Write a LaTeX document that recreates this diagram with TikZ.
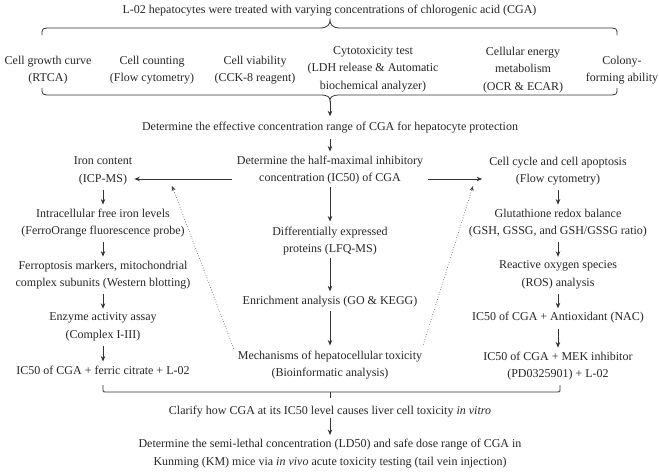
\documentclass[tikz,border=0pt]{standalone}
\usepackage{fontspec}
\setmainfont{Liberation Serif}
\usetikzlibrary{arrows.meta,calc}
\begin{document}
\begin{tikzpicture}[x=1pt,y=-1pt,
  txt/.style={align=center,inner sep=0pt,font=\fontsize{12}{17.5}\selectfont,text=black!85},
  ln/.style={line width=0.8pt,draw=black!80},
  arr/.style={ln,-{Stealth[length=5.5pt,width=4.5pt]}},
  sarr/.style={arr,shorten <=5pt,shorten >=4pt},
  larr/.style={arr,shorten <=3pt,shorten >=5pt},
  dotarr/.style={line width=0.6pt,draw=black!75,dotted,-{Stealth[length=5pt,width=4pt]}}]
\useasboundingbox (0,0) rectangle (659,474);
% title and assays
\node[txt] (title) at (329.5,11) {L-02 hepatocytes were treated with varying concentrations of chlorogenic acid (CGA)};
\node[txt] (c1) at (48,70) {Cell growth curve\\(RTCA)};
\node[txt] (c2) at (152,70) {Cell counting\\(Flow cytometry)};
\node[txt] (c3) at (255,70) {Cell viability\\(CCK-8 reagent)};
\node[txt] (c4) at (373,69) {Cytotoxicity test\\(LDH release \& Automatic\\biochemical analyzer)};
\node[txt] (c5) at (523,70) {Cellular energy\\metabolism\\(OCR \& ECAR)};
\node[txt] (c6) at (622,70) {Colony-\\forming ability};
% braces
\coordinate (tb) at (330,20);
\coordinate (bb) at (330,101);
\draw[ln] (42,35) .. controls (42,28) .. (52,28) -- (320,28) .. controls (328,28) and (330,24) .. (tb)
  .. controls (330,24) and (332,28) .. (340,28) -- (607,28) .. controls (617,28) .. (617,35);
\draw[ln] (42,88) .. controls (42,95) .. (52,95) -- (320,95) .. controls (328,95) and (330,97) .. (bb)
  .. controls (330,97) and (332,95) .. (340,95) -- (607,95) .. controls (617,95) .. (617,88);
% main flow
\node[txt] (eff) at (330,128) {Determine the effective concentration range of CGA for hepatocyte protection};
\node[txt] (ic) at (330,170) {Determine the half-maximal inhibitory\\concentration (IC50) of CGA};
\node[txt] (dep) at (330,241) {Differentially expressed\\proteins (LFQ-MS)};
\node[txt] (enr) at (330,302) {Enrichment analysis (GO \& KEGG)};
\node[txt] (mech) at (330,365) {Mechanisms of hepatocellular toxicity\\(Bioinformatic analysis)};
% left column
\node[txt] (iron) at (103,171) {Iron content\\(ICP-MS)};
\node[txt] (fe) at (103,223) {Intracellular free iron levels\\(FerroOrange fluorescence probe)};
\node[txt] (fer) at (103,275) {Ferroptosis markers, mitochondrial\\complex subunits (Western blotting)};
\node[txt] (enz) at (103,327) {Enzyme activity assay\\(Complex I-III)};
\node[txt] (ferc) at (103,370) {IC50 of CGA + ferric citrate + L-02};
% right column
\node[txt] (cyc) at (558,171) {Cell cycle and cell apoptosis\\(Flow cytometry)};
\node[txt] (glu) at (558,223) {Glutathione redox balance\\(GSH, GSSG, and GSH/GSSG ratio)};
\node[txt] (ros) at (558,275) {Reactive oxygen species\\(ROS) analysis};
\node[txt] (nac) at (558,318) {IC50 of CGA + Antioxidant (NAC)};
\node[txt] (mek) at (558,366) {IC50 of CGA + MEK inhibitor\\(PD0325901) + L-02};
% bottom
\node[txt] (clar) at (330,412) {Clarify how CGA at its IC50 level causes liver cell toxicity \textit{in vitro}};
\node[txt] (ld) at (330,453.5) {Determine the semi-lethal concentration (LD50) and safe dose range of CGA in\\Kunming (KM) mice via \textit{in vivo} acute toxicity testing (tail vein injection)};
% arrows
\draw[arr,shorten >=6pt] (bb) -- (eff);
\draw[sarr] (eff) -- (ic);
\draw[larr] (ic) -- (dep);
\draw[larr] (dep) -- (enr);
\draw[larr] (enr) -- (mech);
\draw[sarr] (iron) -- (fe);
\draw[sarr] (fe) -- (fer);
\draw[sarr] (fer) -- (enz);
\draw[sarr] (enz) -- (ferc);
\draw[sarr] (cyc) -- (glu);
\draw[sarr] (glu) -- (ros);
\draw[sarr] (ros) -- (nac);
\draw[sarr] (nac) -- (mek);
\draw[arr] ([shift={(-5,9)}]ic.west) -- ([shift={(2,8)}]iron.east);
\draw[arr] ([shift={(5,9)}]ic.east) -- ([shift={(-7,8)}]cyc.west);
\coordinate (dl) at (172,186);
\coordinate (dr) at (473,186);
\draw[dotarr] ([shift={(-4,-2)}]mech.north west) -- (dl);
\draw[dotarr] ([shift={(1,-6)}]mech.north east) -- (dr);
% bottom bracket
\coordinate (bk) at (330,398);
\draw[ln] (103,385) -- (103,390) .. controls (103,392) .. (106,392) -- (557,392) .. controls (560,392) .. (560,390) -- (560,385);
\draw[ln] (330,392) -- (bk);
\draw[sarr,shorten <=0pt] (clar) -- (ld);
\end{tikzpicture}
\end{document}
